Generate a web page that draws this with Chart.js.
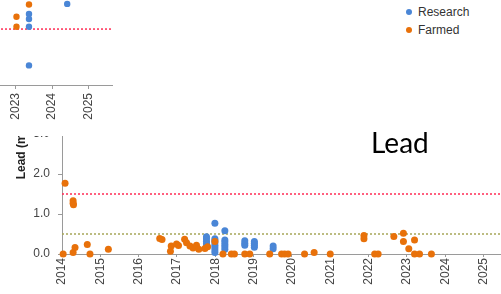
<!DOCTYPE html>
<html>
<head>
<meta charset="utf-8">
<script src="https://cdn.jsdelivr.net/npm/chart.js@4.4.0/dist/chart.umd.min.js"></script>
<style>
  html, body { margin: 0; padding: 0; background: #fff; }
  body { width: 501px; height: 294px; position: relative; overflow: hidden; font-family: "Liberation Sans", Arial, sans-serif; }
  #topChart { position: absolute; left: -60px; top: -100px; }
  #lowerWrap { position: absolute; left: 0; top: 136px; width: 501px; height: 158px; overflow: hidden; }
  #lowerChart { position: absolute; left: 0; top: -111px; }
  #leadTitle { position: absolute; left: 371px; top: 128px; font-family: Lato, sans-serif; font-size: 28px; line-height: 28px; color: #000; }
  #legend { position: absolute; left: 406px; top: 3px; font-size: 12px; color: #333; }
  #legend .item { display: flex; align-items: center; height: 18px; }
  #legend .dot { width: 6px; height: 6px; border-radius: 50%; margin-right: 6px; }
</style>
</head>
<body>
<canvas id="topChart" width="176" height="221"></canvas>
<div id="lowerWrap"><canvas id="lowerChart" width="510" height="269"></canvas></div>
<div id="leadTitle">Lead</div>
<div id="legend"></div>

<script>
// series
const seriesNames = ['Research', 'Farmed'];
const seriesColors = ['#4a86d6', '#e8710a'];

// upper panel (only its lower right corner is visible)
const topResearchYears = [2023.37, 2023.37, 2023.37, 2023.37, 2024.41];
const topResearchValues = [1.27, 1.18, 1.04, 0.35, 1.45];
const topFarmedYears = [2023.03, 2023.03, 2023.37];
const topFarmedValues = [1.22, 1.04, 1.44];
const topLimits = [1.0];
const topTickYears = [2023, 2024, 2025];

// lead panel
const leadResearchYears = [
  2017.77, 2017.77, 2017.77, 2017.77, 2017.77,
  2017.99, 2017.99, 2017.99, 2017.99, 2017.99, 2017.99, 2017.99, 2017.99,
  2018.25, 2018.25, 2018.25, 2018.25, 2018.25, 2018.25,
  2018.77, 2018.77, 2018.77,
  2019.02, 2019.02, 2019.02, 2019.02,
  2019.51, 2019.51
];
const leadResearchValues = [
  0.20, 0.26, 0.32, 0.38, 0.43,
  0.77, 0.04, 0.10, 0.16, 0.22, 0.28, 0.34, 0.38,
  0.58, 0.12, 0.18, 0.24, 0.30, 0.35,
  0.22, 0.27, 0.33,
  0.17, 0.22, 0.27, 0.31,
  0.13, 0.20
];
const leadFarmedYears = [
  2014.03, 2014.08, 2014.29, 2014.29, 2014.30, 2014.29, 2014.34, 2014.66, 2014.73, 2015.21,
  2016.55, 2016.61, 2016.83, 2016.85, 2016.99, 2017.04, 2017.20, 2017.25, 2017.34, 2017.42,
  2017.51, 2017.57, 2017.73, 2017.80, 2017.99,
  2018.20, 2018.42, 2018.50, 2018.77, 2018.90, 2019.42, 2019.73, 2019.81, 2019.90,
  2020.33, 2020.58, 2021.00, 2021.88, 2021.88, 2022.16, 2022.25,
  2022.66, 2022.91, 2022.91, 2023.05, 2023.20, 2023.20, 2023.33, 2023.64
];
const leadFarmedValues = [
  0.00, 1.77, 1.33, 1.27, 1.23, 0.04, 0.16, 0.24, 0.00, 0.12,
  0.39, 0.36, 0.07, 0.20, 0.25, 0.21, 0.37, 0.28, 0.20, 0.15,
  0.22, 0.12, 0.14, 0.18, 0.31,
  0.00, 0.00, 0.00, 0.00, 0.00, 0.00, 0.00, 0.00, 0.00,
  0.00, 0.04, 0.00, 0.46, 0.38, 0.00, 0.00,
  0.44, 0.52, 0.31, 0.13, 0.35, 0.00, 0.00, 0.00
];
const leadLimits = [1.5, 0.5];
const limitColors = ['#ff2d55', '#a6a65a'];
const leadTickYears = [2014, 2015, 2016, 2017, 2018, 2019, 2020, 2021, 2022, 2023, 2024, 2025];
const leadTickValues = [0, 1, 2, 3, 4, 5];

function pts(xs, ys) {
  return xs.map((x, i) => ({ x: x, y: ys[i] }));
}

function pointSet(label, xs, ys, color, order, r) {
  return {
    label: label,
    data: pts(xs, ys),
    backgroundColor: color,
    borderColor: color,
    borderWidth: 0,
    pointRadius: r,
    pointHoverRadius: r,
    clip: false,
    order: order
  };
}

function limitLine(v, xMin, xMax, color) {
  return {
    label: 'limit ' + v,
    data: [{ x: xMin, y: v }, { x: xMax, y: v }],
    showLine: true,
    borderColor: color,
    borderWidth: 1.5,
    borderDash: [2, 2],
    pointRadius: 0,
    order: 3
  };
}

// keep the plot area where we put it: drop the label overflow padding
function noPadX(s, h) { s.height = h; s.paddingLeft = 0; s.paddingRight = 0; }
function noPadY(s, w) { s.width = w; s.paddingTop = 0; s.paddingBottom = 0; }

const axisGray = '#9a9a9a';
const tickColor = '#444';
Chart.defaults.font.family = '"Liberation Sans", Arial, sans-serif';
Chart.defaults.font.size = 12;

// upper chart
const topMin = 2022.5, topMax = 2025.65;
new Chart(document.getElementById('topChart'), {
  type: 'scatter',
  data: {
    datasets: [
      pointSet(seriesNames[1], topFarmedYears, topFarmedValues, seriesColors[1], 1, 3.2),
      pointSet(seriesNames[0], topResearchYears, topResearchValues, seriesColors[0], 2, 3.2),
      ...topLimits.map(v => limitLine(v, topMin, topMax, limitColors[0]))
    ]
  },
  options: {
    responsive: false,
    animation: false,
    layout: { padding: { left: 57, right: 0, top: 0, bottom: 0 } },
    plugins: { legend: { display: false }, tooltip: { enabled: false } },
    scales: {
      x: {
        type: 'linear', min: topMin, max: topMax,
        afterBuildTicks: s => { s.ticks = topTickYears.map(v => ({ value: v })); },
        afterFit: s => noPadX(s, 36),
        ticks: { minRotation: 90, maxRotation: 90, autoSkip: false, padding: 4, color: tickColor, callback: v => String(v) },
        grid: { drawOnChartArea: false, tickLength: 4, color: axisGray },
        border: { color: axisGray }
      },
      y: { display: false, min: 0, max: 3.25 }
    }
  }
});

// lead chart
const leadMin = 2014, leadMax = 2025.6;
new Chart(document.getElementById('lowerChart'), {
  type: 'scatter',
  data: {
    datasets: [
      pointSet(seriesNames[1], leadFarmedYears, leadFarmedValues, seriesColors[1], 1, 3.5),
      pointSet(seriesNames[0], leadResearchYears, leadResearchValues, seriesColors[0], 2, 3.5),
      ...leadLimits.map((v, i) => limitLine(v, leadMin, leadMax, limitColors[i]))
    ]
  },
  options: {
    responsive: false,
    animation: false,
    layout: { padding: { left: 0, right: 3, top: 5, bottom: 0 } },
    plugins: { legend: { display: false }, tooltip: { enabled: false } },
    scales: {
      x: {
        type: 'linear', min: leadMin, max: leadMax,
        afterBuildTicks: s => { s.ticks = leadTickYears.map(v => ({ value: v })); },
        afterFit: s => noPadX(s, 40),
        ticks: { minRotation: 90, maxRotation: 90, autoSkip: false, padding: 1, color: tickColor, callback: v => String(v) },
        grid: { drawOnChartArea: false, tickLength: 3, color: axisGray },
        border: { color: axisGray }
      },
      y: {
        min: 0, max: 5.6,
        afterBuildTicks: s => { s.ticks = leadTickValues.map(v => ({ value: v })); },
        afterFit: s => noPadY(s, 62),
        ticks: { padding: 8, color: tickColor, callback: v => Number(v).toFixed(1) },
        grid: { drawOnChartArea: false, tickLength: 4, color: axisGray },
        border: { color: axisGray },
        title: { display: true, text: 'Lead (mg/kg)', color: '#222', font: { size: 12, weight: 'bold' }, padding: { top: 14, bottom: 0 } }
      }
    }
  }
});

// legend built from the series
const legend = document.getElementById('legend');
seriesNames.forEach((name, i) => {
  const item = document.createElement('div');
  item.className = 'item';
  item.innerHTML = '<span class="dot" style="background:' + seriesColors[i] + '"></span>' + name;
  legend.appendChild(item);
});
</script>
</body>
</html>
